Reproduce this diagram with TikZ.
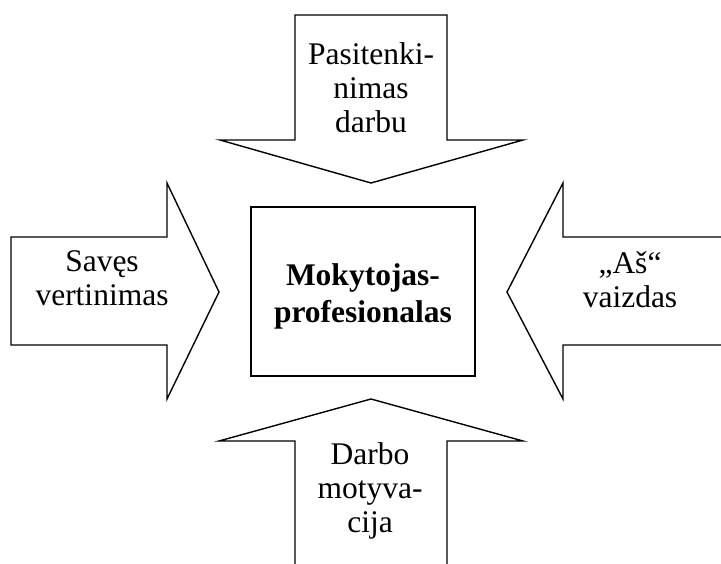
\documentclass[tikz,border=0pt]{standalone}
\usepackage{fontspec}
\setmainfont{Liberation Serif}
\begin{document}
\begin{tikzpicture}[x=1pt,y=-1pt,
  shape outline/.style={draw=black,line width=1.4pt,line join=miter,fill=white},
  lbl/.style={align=center,anchor=base,inner sep=0pt,font=\fontsize{31.5}{34}\selectfont},
  blbl/.style={align=center,anchor=base,inner sep=0pt,font=\fontsize{31.5}{37}\selectfont\bfseries}]
\useasboundingbox (0,0) rectangle (721,563);
% top arrow
\draw[shape outline] (295,15) -- (447,15) -- (447,140) -- (523,140) -- (371,183) -- (220,140) -- (295,140) -- cycle;
% left arrow
\draw[shape outline] (11,237) -- (167,237) -- (167,183) -- (219,292) -- (167,399) -- (167,345) -- (11,345) -- cycle;
% right arrow
\draw[shape outline] (730,237) -- (563,237) -- (563,183) -- (507,292) -- (563,399) -- (563,345) -- (730,345);
% bottom arrow
\draw[shape outline] (295,570) -- (295,441) -- (219,441) -- (371,399) -- (523,441) -- (447,441) -- (447,570);
% center box
\node[draw=black,line width=1.4pt,minimum width=224pt,minimum height=169pt,inner sep=0pt] (box) at (363,291.5) {};
\node[blbl] (center) at (363,322) {Mokytojas-\\profesionalas};
\node[lbl] (top) at (371,132) {Pasitenki-\\nimas\\darbu};
\node[lbl] (left) at (102,305) {Savęs\\vertinimas};
\node[lbl] (right) at (630,307) {„Aš“\\vaizdas};
\node[lbl] (bottom) at (370,532) {Darbo\\motyva-\\cija};
\end{tikzpicture}
\end{document}
